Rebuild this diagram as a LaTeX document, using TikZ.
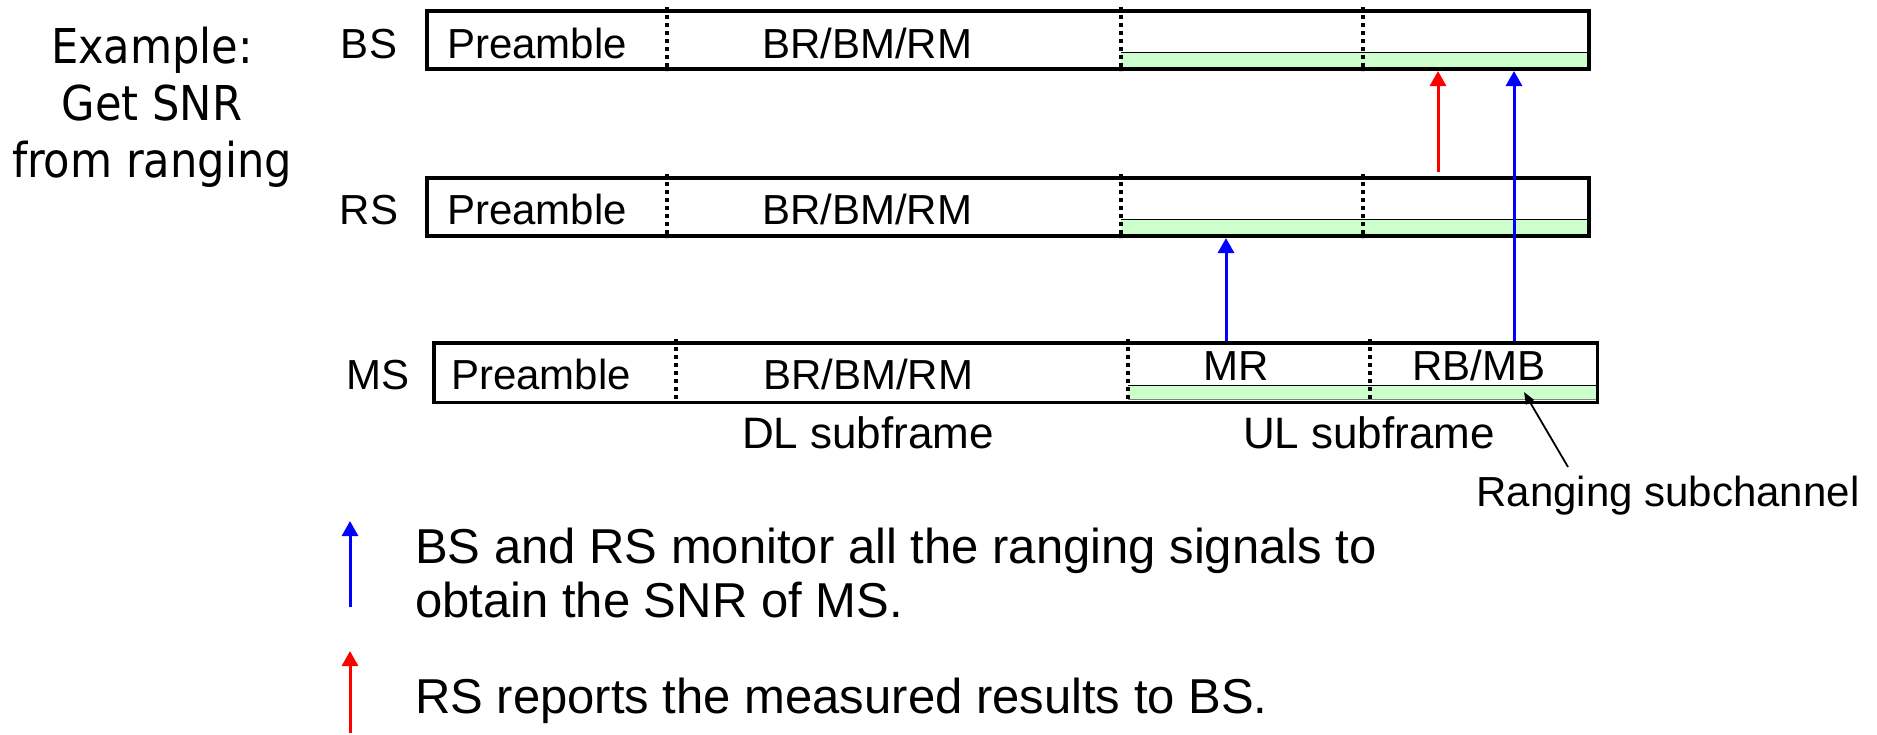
\documentclass[tikz,border=0pt]{standalone}
\usepackage{fontspec}
\setmainfont{Liberation Sans}
\newfontfamily\tahoma{DejaVu Sans Condensed}
\usetikzlibrary{arrows.meta,calc}
\definecolor{bandgreen}{HTML}{CCFFCC}
\begin{document}
\begin{tikzpicture}[x=1pt,y=-1pt,
  frame/.style={draw, line width=4pt, inner sep=0pt, rectangle},
  lbl/.style={font=\fontsize{42}{50}\selectfont, inner sep=0pt, anchor=base},
  sub/.style={font=\fontsize{44}{50}\selectfont, inner sep=0pt, anchor=base},
  sepline/.style={line width=4pt, dash pattern=on 4pt off 4pt},
  bandfill/.style={fill=bandgreen},
  bandtop/.style={line width=1.8pt, black},
  bandbot/.style={line width=1.5pt, gray},
  sig/.style={line width=3pt, -{Triangle[width=16pt,length=15pt]}},
  ptr/.style={line width=1.8pt, -{Triangle[width=9pt,length=12pt]}},
]
\useasboundingbox (0,0) rectangle (1877,734);

% title
\node[font=\tahoma\fontsize{48}{57}\selectfont, align=center, inner sep=0pt, anchor=base] (title) at (152,177)
  {Example:\\Get SNR\\from ranging};

% ranging bands
\fill[bandfill] (1121,52) rectangle (1589,67);
\draw[bandtop] (1121,52.5) -- (1589,52.5);
\draw[bandbot] (1121,67.5) -- (1589,67.5);
\fill[bandfill] (1121,219) rectangle (1589,234);
\draw[bandtop] (1121,219.5) -- (1589,219.5);
\draw[bandbot] (1121,234.5) -- (1589,234.5);
\fill[bandfill] (1128,385) rectangle (1597,399);
\draw[bandtop] (1128,385.5) -- (1597,385.5);
\draw[bandbot] (1128,399.5) -- (1597,399.5);

% frames
\node[frame, minimum width=1162pt, minimum height=58pt] (bs) at (1008,40) {};
\node[frame, minimum width=1162pt, minimum height=58pt] (rs) at (1008,207) {};
\node[frame, line width=3.5pt, minimum width=1163.5pt, minimum height=59.5pt] (ms) at (1015.5,372.5) {};

% separators
\coordinate (s1) at (667,0);
\coordinate (s2) at (1121,0);
\coordinate (s3) at (1363,0);
\coordinate (t1) at (676,0);
\coordinate (t2) at (1128,0);
\coordinate (t3) at (1370,0);
\foreach \f in {bs,rs}{
  \draw[sepline] ($(s1 |- \f.north)+(0,-2)$) -- (s1 |- \f.south);
  \draw[sepline] ($(s2 |- \f.north)+(0,-2)$) -- (s2 |- \f.south);
  \draw[sepline] ($(s3 |- \f.north)+(0,-2)$) -- (s3 |- \f.south);
}
\draw[sepline] ($(t1 |- ms.north)+(0,-2)$) -- (t1 |- ms.south);
\draw[sepline] ($(t2 |- ms.north)+(0,-2)$) -- (t2 |- ms.south);
\draw[sepline] ($(t3 |- ms.north)+(0,-2)$) -- (t3 |- ms.south);

% labels
\node[lbl] (bsname) at (369,58) {BS};
\node[lbl] (bspre) at (537,58) {Preamble};
\node[lbl] (bsbr) at (867,58) {BR/BM/RM};
\node[lbl] (rsname) at (369,224) {RS};
\node[lbl] (rspre) at (537,224) {Preamble};
\node[lbl] (rsbr) at (867,224) {BR/BM/RM};
\node[lbl] (msname) at (378,389) {MS};
\node[lbl] (mspre) at (541,389) {Preamble};
\node[lbl] (msbr) at (868,389) {BR/BM/RM};
\node[lbl] (mr) at (1236,380) {MR};
\node[lbl] (rbmb) at (1479,380) {RB/MB};
\node[sub] (dl) at (868,448) {DL subframe};
\node[sub] (ul) at (1369,448) {UL subframe};
\node[lbl] (rsub) at (1668,506) {Ranging subchannel};

% pointer
\coordinate (ptail) at (1568,467);
\coordinate (ptip) at (1524,392);
\draw[ptr] (ptail) -- (ptip);

% signal arrows
\coordinate (xb1) at (1226,0);
\coordinate (xb2) at (1514,0);
\coordinate (xr) at (1438,0);
\draw[sig, blue] (xb1 |- ms.north) -- (xb1 |- rs.south);
\draw[sig, blue] (xb2 |- ms.north) -- (xb2 |- bs.south);
\draw[sig, red] ($(xr |- rs.north)+(0,-4)$) -- (xr |- bs.south);

% legend
\coordinate (lbt) at (350,607);
\coordinate (lbh) at (350,521);
\coordinate (lrt) at (350,733);
\coordinate (lrh) at (350,651);
\draw[sig, blue] (lbt) -- (lbh);
\draw[sig, red] (lrt) -- (lrh);
\node[font=\fontsize{49}{54}\selectfont, align=left, inner sep=0pt, anchor=base west] (leg1) at (415,617)
  {BS and RS monitor all the ranging signals to\\obtain the SNR of MS.};
\node[font=\fontsize{49}{54}\selectfont, inner sep=0pt, anchor=base west] (leg2) at (415,713)
  {RS reports the measured results to BS.};
\end{tikzpicture}
\end{document}
